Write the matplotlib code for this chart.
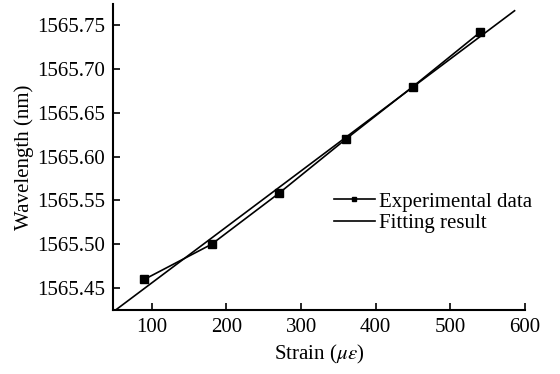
import numpy as np
import matplotlib
matplotlib.use("Agg")
import matplotlib.pyplot as plt

strain = [90, 180, 270, 360, 450, 540]
wavelength = [1565.460, 1565.500, 1565.558, 1565.620, 1565.680, 1565.742]
xticks = [100, 200, 300, 400, 500, 600]
yticks = [1565.45, 1565.50, 1565.55, 1565.60, 1565.65, 1565.70, 1565.75]

plt.rcParams['font.family'] = ['Liberation Serif', 'DejaVu Serif']
plt.rcParams['mathtext.fontset'] = 'stix'

fig = plt.figure(figsize=(5.6, 3.74), dpi=100)
ax = fig.add_axes([0.2018, 0.171, 0.7357, 0.818])

k, b = np.polyfit(strain, wavelength, 1)
xfit = np.array([48, 586])
ax.plot(xfit, k * xfit + b, color='black', lw=1.2, label='Fitting result', zorder=2)
ax.plot(strain, wavelength, color='black', lw=1.2, marker='s', markersize=6,
        label='Experimental data', zorder=3)

ax.set_xlim(48, 600)
ax.set_ylim(1565.425, 1565.774)
ax.set_xticks(xticks)
ax.set_yticks(yticks)
ax.set_yticklabels([f"{v:.2f}" for v in yticks])
ax.tick_params(direction='in', length=5, width=1.2, labelsize=15, pad=6)
for s in ['top', 'right']:
    ax.spines[s].set_visible(False)
for s in ['left', 'bottom']:
    ax.spines[s].set_linewidth(1.5)

ax.set_xlabel(r'Strain ($\mu\varepsilon$)', fontsize=15, labelpad=4)
ax.set_ylabel('Wavelength (nm)', fontsize=15, labelpad=2)

h, l = ax.get_legend_handles_labels()
leg = ax.legend([h[1], h[0]], [l[1], l[0]], loc='upper left',
                bbox_to_anchor=(0.51, 0.42), frameon=False, fontsize=15,
                handlelength=2.0, handletextpad=0.2, labelspacing=0.1,
                borderpad=0, markerscale=0.6)

fig.savefig('out.png', dpi=100)
